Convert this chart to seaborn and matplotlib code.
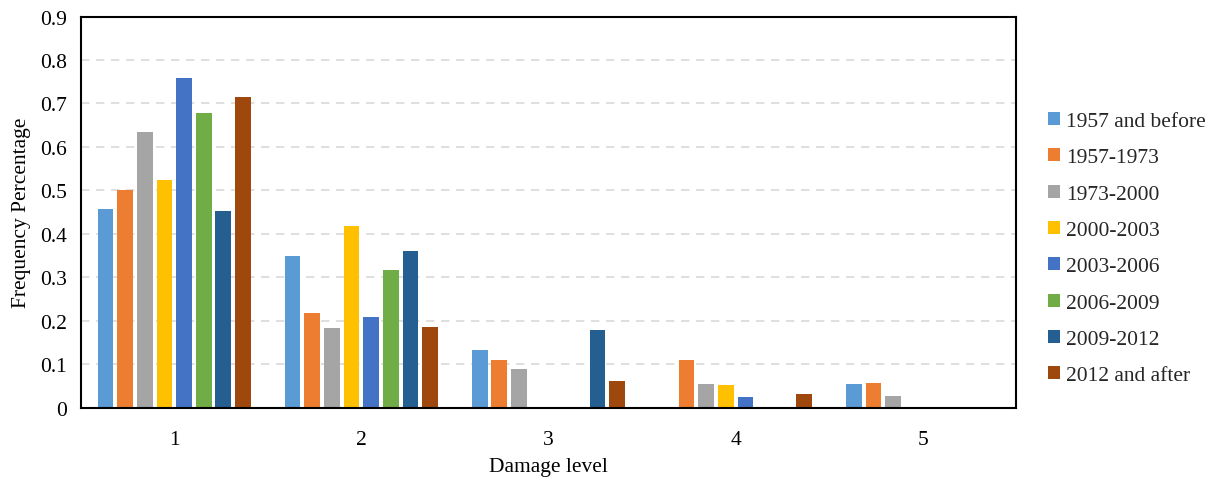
import matplotlib
matplotlib.use("Agg")
import matplotlib.pyplot as plt
import seaborn as sns
import pandas as pd

damage_levels = ["1", "2", "3", "4", "5"]
periods = ["1957 and before", "1957-1973", "1973-2000", "2000-2003",
           "2003-2006", "2006-2009", "2009-2012", "2012 and after"]

v_1957_before = [0.457, 0.349, 0.134, 0.0, 0.054]
v_1957_1973 = [0.502, 0.217, 0.109, 0.109, 0.058]
v_1973_2000 = [0.635, 0.183, 0.089, 0.054, 0.027]
v_2000_2003 = [0.524, 0.419, 0.0, 0.052, 0.0]
v_2003_2006 = [0.759, 0.210, 0.0, 0.024, 0.0]
v_2006_2009 = [0.678, 0.317, 0.0, 0.0, 0.0]
v_2009_2012 = [0.452, 0.361, 0.180, 0.0, 0.0]
v_2012_after = [0.716, 0.187, 0.062, 0.031, 0.0]

series = [v_1957_before, v_1957_1973, v_1973_2000, v_2000_2003,
          v_2003_2006, v_2006_2009, v_2009_2012, v_2012_after]

colors = ["#5B9BD5", "#ED7D31", "#A5A5A5", "#FFC000",
          "#4472C4", "#70AD47", "#255E91", "#9E480E"]

rows = []
for p, vals in zip(periods, series):
    for d, v in zip(damage_levels, vals):
        rows.append({"Damage level": d, "Period": p, "Value": v})
df = pd.DataFrame(rows)

sns.set_theme(style="white")
plt.rcParams["font.family"] = ["Liberation Serif", "DejaVu Serif"]

fig, ax = plt.subplots(figsize=(12.17, 4.81), dpi=100)
fig.subplots_adjust(left=0.0663, right=0.835, top=0.9636, bottom=0.150)

sns.barplot(data=df, x="Damage level", y="Value", hue="Period",
            hue_order=periods, order=damage_levels, palette=colors,
            saturation=1, width=0.84, gap=0.2, linewidth=0, ax=ax,
            legend=True)

ax.set_ylim(0, 0.9)
ax.set_xlim(-0.5, 4.5)
yt = [i / 10 for i in range(10)]
ax.set_yticks(yt)
ax.set_yticklabels(["0"] + [f"{t:.1f}" for t in yt[1:]])
ax.yaxis.grid(True, color="#d9d9d9", linestyle=(0, (5, 4)), linewidth=1.2)
ax.set_axisbelow(True)
ax.tick_params(axis="both", length=0, labelsize=15.5, colors="black")
ax.tick_params(axis="y", pad=10)
ax.tick_params(axis="x", pad=16)
for s in ax.spines.values():
    s.set_color("black")
    s.set_linewidth(1.5)
ax.set_xlabel("Damage level", fontsize=15.5, color="black", labelpad=6)
ax.set_ylabel("Frequency Percentage", fontsize=15.5, color="black", labelpad=6)

handles, labels = ax.get_legend_handles_labels()
ax.get_legend().remove()
fig.legend(handles, labels, loc="center left", bbox_to_anchor=(0.861, 0.481),
           frameon=False, fontsize=15.5, handlelength=0.55, handleheight=0.55,
           handletextpad=0.3, labelspacing=0.8, borderpad=0, borderaxespad=0)

fig.savefig("out.png", dpi=100)
